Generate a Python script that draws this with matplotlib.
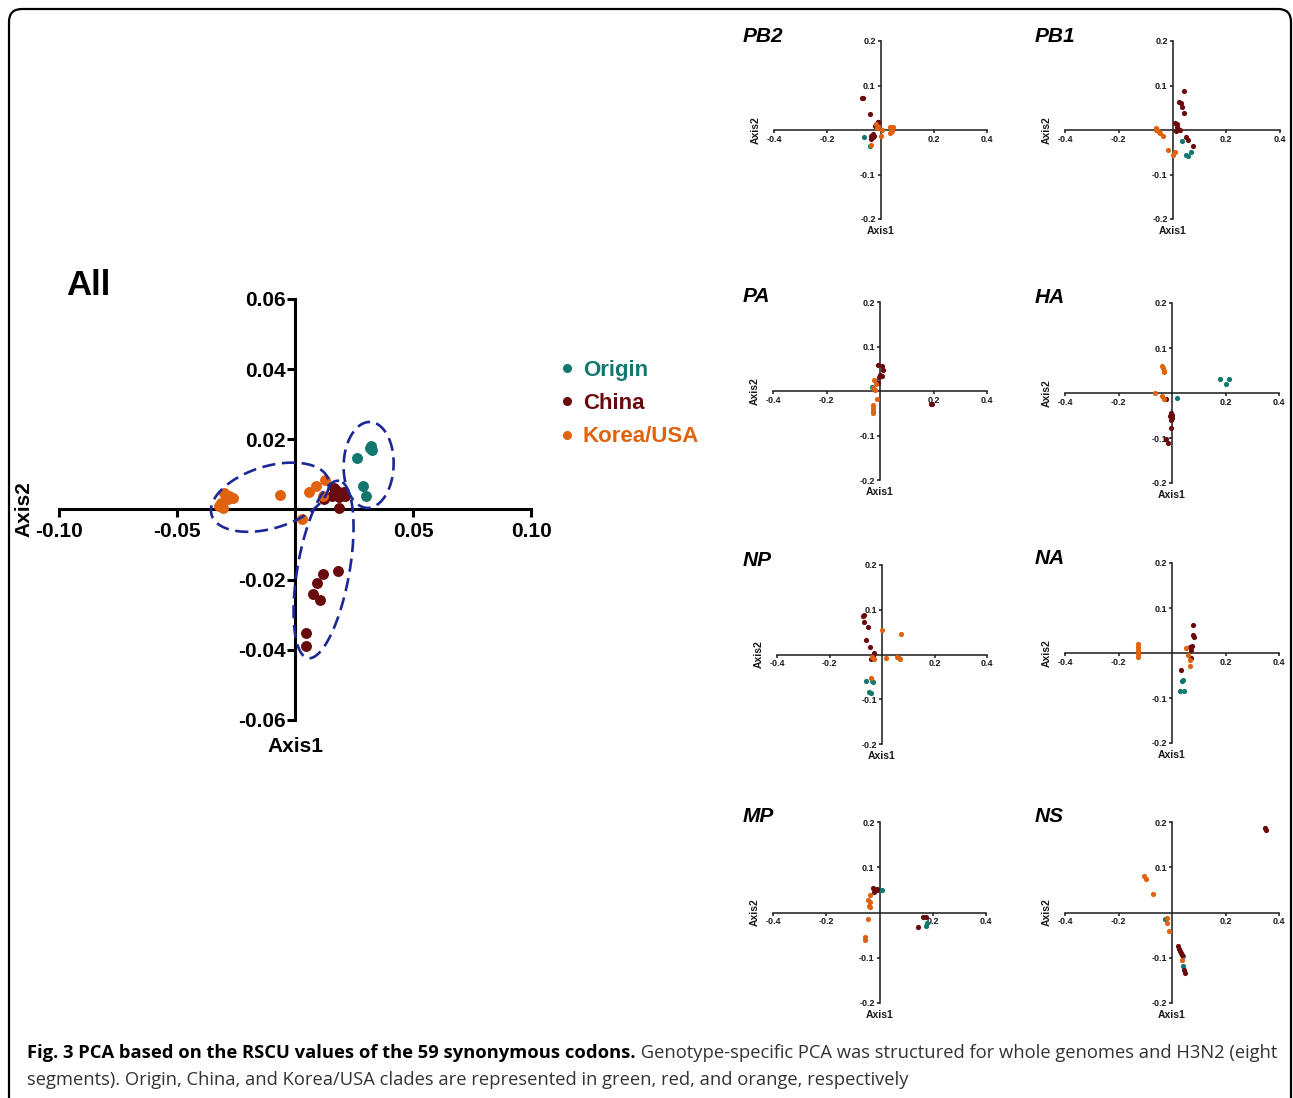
import matplotlib.pyplot as plt
import numpy as np
from matplotlib.lines import Line2D
from matplotlib.patches import FancyBboxPatch

W, H = 1293, 1098
TEAL = '#12786f'
DRED = '#690a0c'
ORNG = '#e0620e'
NAVY = '#1c2896'
INK = '#1a1a1a'

plt.rcParams['font.family'] = ['Liberation Sans', 'DejaVu Sans']

clades = ['Origin', 'China', 'Korea/USA']
clade_colors = [TEAL, DRED, ORNG]

# ---- whole genome PCA (All) ----
all_origin = [(0.0263, 0.0146), (0.0319, 0.0176), (0.0325, 0.0171), (0.0323, 0.0180),
              (0.0288, 0.0066), (0.0301, 0.0038)]
all_china = [(0.0165, 0.0060), (0.0177, 0.0052), (0.0157, 0.0038), (0.0188, 0.0036),
             (0.0206, 0.0049), (0.0213, 0.0038), (0.0124, 0.0029), (0.0188, 0.0005),
             (0.0117, -0.0183), (0.0181, -0.0176), (0.0093, -0.0210), (0.0075, -0.0240),
             (0.0106, -0.0257), (0.0048, -0.0352), (0.0048, -0.0388)]
all_korea = [(-0.0299, 0.0048), (-0.0278, 0.0038), (-0.0264, 0.0033), (-0.0285, 0.0029),
             (-0.0314, 0.0019), (-0.0306, 0.0003), (-0.0323, 0.0010), (-0.0292, 0.0041),
             (-0.0062, 0.0040), (0.0058, 0.0050), (0.0089, 0.0066), (0.0129, 0.0085),
             (0.0120, 0.0038), (0.0028, -0.0026)]

# clade ellipses: centre (data), semi-axes (px), tilt (deg)
ellipse_centers = [(-0.0106, 0.0035), (0.0312, 0.0127), (0.0121, -0.0171)]
ellipse_axes_px = [(61, 31), (43, 25), (90, 26)]
ellipse_angles = [17, 88, 80]

# ---- segment PCA ----
segments = ['PB2', 'PB1', 'PA', 'HA', 'NP', 'NA', 'MP', 'NS']

pb2_origin = [(-0.061, -0.016), (-0.040, -0.037)]
pb2_china = [(-0.069, 0.072), (-0.064, 0.073), (-0.040, 0.036), (-0.011, 0.019), (-0.009, 0.017),
             (-0.021, 0.010), (-0.036, -0.013), (-0.030, -0.016), (-0.024, -0.013),
             (-0.034, -0.020), (-0.028, -0.009)]
pb2_korea = [(-0.018, 0.013), (-0.014, 0.004), (-0.009, 0.007), (0.004, -0.001), (0.001, -0.013),
             (0.035, 0.006), (0.041, 0.002), (0.039, -0.005), (0.048, 0.007), (0.044, -0.002),
             (0.035, -0.007), (-0.034, -0.033)]

pb1_origin = [(0.037, -0.024), (0.067, -0.049), (0.052, -0.056), (0.056, -0.058)]
pb1_china = [(0.042, 0.088), (0.025, 0.064), (0.031, 0.061), (0.037, 0.052), (0.042, 0.038),
             (0.010, 0.016), (0.017, 0.013), (0.015, 0.006), (0.021, 0.002), (0.027, 0.000),
             (0.012, -0.003), (0.052, -0.016), (0.056, -0.022), (0.077, -0.035)]
pb1_korea = [(-0.062, 0.004), (-0.056, 0.000), (-0.052, -0.005), (-0.047, -0.007),
             (-0.035, -0.013), (-0.060, -0.001), (-0.015, -0.044), (0.010, -0.049),
             (0.000, -0.056)]

pa_origin = [(-0.016, 0.023), (-0.029, 0.008)]
pa_china = [(-0.009, 0.059), (0.006, 0.056), (0.011, 0.047), (0.000, 0.035), (0.009, 0.034),
            (-0.004, 0.032), (-0.006, 0.019), (0.191, -0.030), (0.196, -0.029)]
pa_korea = [(-0.021, 0.024), (-0.015, 0.015), (-0.025, 0.006), (-0.019, 0.002),
            (-0.025, -0.032), (-0.026, -0.038), (-0.027, -0.044), (-0.026, -0.049),
            (-0.013, -0.017)]

ha_origin = [(0.020, -0.011), (0.178, 0.032), (0.213, 0.031), (0.200, 0.021)]
ha_china = [(-0.021, -0.013), (-0.002, -0.044), (-0.006, -0.052), (0.001, -0.055),
            (-0.004, -0.059), (-0.001, -0.048), (-0.002, -0.077), (-0.021, -0.102),
            (-0.015, -0.111)]
ha_korea = [(-0.039, 0.061), (-0.034, 0.055), (-0.031, 0.050), (-0.029, 0.046),
            (-0.063, -0.001), (-0.037, -0.007), (-0.030, -0.013)]

np_origin = [(-0.061, -0.060), (-0.038, -0.060), (-0.036, -0.062), (-0.048, -0.084),
             (-0.041, -0.086)]
np_china = [(-0.069, 0.089), (-0.071, 0.087), (-0.070, 0.073), (-0.055, 0.062), (-0.061, 0.032),
            (-0.047, 0.017), (-0.032, 0.004), (-0.036, -0.004), (-0.041, -0.011),
            (-0.033, -0.007)]
np_korea = [(0.000, 0.054), (0.074, 0.046), (-0.038, -0.005), (-0.032, -0.010), (0.015, -0.007),
            (0.057, -0.005), (0.064, -0.008), (0.069, -0.011), (-0.043, -0.052)]

na_origin = [(0.041, -0.059), (0.037, -0.063), (0.031, -0.085), (0.044, -0.085)]
na_china = [(0.078, 0.063), (0.078, 0.041), (0.081, 0.035), (0.073, 0.016), (0.066, 0.013),
            (0.071, 0.006), (0.071, -0.011), (0.032, -0.038)]
na_korea = [(-0.127, 0.020), (-0.127, 0.013), (-0.127, 0.007), (-0.127, 0.002), (-0.127, -0.003),
            (-0.127, -0.008), (0.053, 0.011), (0.061, -0.004), (0.066, -0.015), (0.068, -0.028)]

mp_origin = [(0.003, 0.049), (0.009, 0.049), (0.178, -0.024), (0.173, -0.029)]
mp_china = [(-0.025, 0.054), (-0.016, 0.050), (-0.010, 0.049), (-0.008, 0.051), (-0.020, 0.046),
            (0.163, -0.010), (0.173, -0.009), (0.144, -0.031)]
mp_korea = [(-0.035, 0.039), (-0.045, 0.028), (-0.035, 0.024), (-0.038, 0.015), (-0.035, 0.012),
            (-0.044, -0.015), (-0.054, -0.054), (-0.056, -0.060)]

ns_origin = [(-0.026, -0.015), (0.040, -0.096), (0.042, -0.118)]
ns_china = [(0.348, 0.186), (0.353, 0.182), (0.024, -0.075), (0.027, -0.081), (0.031, -0.086),
            (0.034, -0.090), (0.037, -0.094), (0.045, -0.127), (0.049, -0.133)]
ns_korea = [(-0.103, 0.080), (-0.097, 0.075), (-0.070, 0.041), (-0.017, -0.013),
            (-0.020, -0.024), (-0.012, -0.041), (0.036, -0.106)]

segment_data = [
    (pb2_origin, pb2_china, pb2_korea),
    (pb1_origin, pb1_china, pb1_korea),
    (pa_origin, pa_china, pa_korea),
    (ha_origin, ha_china, ha_korea),
    (np_origin, np_china, np_korea),
    (na_origin, na_china, na_korea),
    (mp_origin, mp_china, mp_korea),
    (ns_origin, ns_china, ns_korea),
]

# panel boxes in pixels (left, top, right, bottom)
panel_boxes = [(774, 41, 987, 219), (1065, 41, 1280, 219),
               (773, 302, 987, 480), (1065, 303, 1279, 483),
               (777, 565, 987, 744), (1065, 563, 1279, 743),
               (773, 822, 986, 1003), (1065, 822, 1279, 1003)]

caption_bold = 'Fig. 3 PCA based on the RSCU values of the 59 synonymous codons.'
caption_line1 = ' Genotype-specific PCA was structured for whole genomes and H3N2 (eight'
caption_line2 = ('segments). Origin, China, and Korea/USA clades are represented in green, '
                 'red, and orange, respectively')


def add_px_axes(fig, box):
    x0, y0, x1, y1 = box
    return fig.add_axes([x0 / W, 1 - y1 / H, (x1 - x0) / W, (y1 - y0) / H])


def cross_axes(ax, lw, color):
    for s in ['top', 'right']:
        ax.spines[s].set_visible(False)
    for s in ['left', 'bottom']:
        ax.spines[s].set_position(('data', 0))
        ax.spines[s].set_linewidth(lw)
        ax.spines[s].set_color(color)
    ax.patch.set_visible(False)


fig = plt.figure(figsize=(W / 100, H / 100), dpi=100)

# outer rounded frame, drawn in pixel units
bg = fig.add_axes([0, 0, 1, 1], zorder=-5)
bg.set_xlim(0, W)
bg.set_ylim(H, 0)
bg.axis('off')
bg.add_patch(FancyBboxPatch((9, 9), W - 11, H + 40,
                            boxstyle='round,pad=0,rounding_size=13',
                            fc='white', ec='black', lw=1.6))

# ---- main panel ----
main_box = (59, 299, 531, 720)
ax = add_px_axes(fig, main_box)
cross_axes(ax, 2.2, 'black')
ax.set_xlim(-0.10, 0.10)
ax.set_ylim(-0.06, 0.06)
ax.set_xticks([-0.10, -0.05, 0.05, 0.10])
ax.set_yticks([-0.06, -0.04, -0.02, 0.02, 0.04, 0.06])
ax.set_xticklabels(['%.2f' % v for v in ax.get_xticks()])
ax.set_yticklabels(['%.2f' % v for v in ax.get_yticks()])
ax.tick_params(direction='out', length=6, width=2.2, labelsize=15)
ax.tick_params(axis='x', pad=3)
ax.tick_params(axis='y', pad=0.5)
for lab in ax.get_xticklabels() + ax.get_yticklabels():
    lab.set_fontweight('bold')

for pts, col in zip([all_origin, all_china, all_korea], clade_colors):
    arr = np.array(pts)
    ax.scatter(arr[:, 0], arr[:, 1], s=62, color=col, linewidths=0, zorder=3)

# ellipses drawn in screen space, then mapped back to data units
sx = (main_box[2] - main_box[0]) / 0.20
sy = (main_box[3] - main_box[1]) / 0.12
t = np.linspace(0, 2 * np.pi, 300)
for (cx, cy), (a, b), ang in zip(ellipse_centers, ellipse_axes_px, ellipse_angles):
    th = np.deg2rad(ang)
    px = a * np.cos(t) * np.cos(th) - b * np.sin(t) * np.sin(th)
    py = a * np.cos(t) * np.sin(th) + b * np.sin(t) * np.cos(th)
    ax.plot(cx + px / sx, cy + py / sy, color=NAVY, lw=1.9, ls=(0, (5, 2.5)), zorder=4)

fig.text(88 / W, 1 - 286 / H, 'All', fontsize=25, fontweight='bold', ha='center', va='center')
fig.text(24 / W, 1 - 509 / H, 'Axis2', fontsize=15, fontweight='bold', rotation=90,
         ha='center', va='center')
fig.text(295 / W, 1 - 747 / H, 'Axis1', fontsize=15, fontweight='bold', ha='center', va='center')

handles = [Line2D([], [], marker='o', ls='', color=c, markersize=5.5) for c in clade_colors]
leg = fig.legend(handles, clades, loc='upper left', bbox_to_anchor=(560 / W, 1 - 360 / H),
                 frameon=False, handlelength=0.6, handletextpad=0.42, labelspacing=0.55,
                 borderpad=0, borderaxespad=0,
                 prop={'size': 16, 'weight': 'bold'})
for txt, c in zip(leg.get_texts(), clade_colors):
    txt.set_color(c)

# ---- segment panels ----
for i, (name, data, box) in enumerate(zip(segments, segment_data, panel_boxes)):
    sax = add_px_axes(fig, box)
    cross_axes(sax, 1.1, INK)
    sax.set_xlim(-0.4, 0.4)
    sax.set_ylim(-0.2, 0.2)
    sax.set_xticks([-0.4, -0.2, 0.2, 0.4])
    sax.set_yticks([-0.2, -0.1, 0.1, 0.2])
    sax.set_xticklabels(['%.1f' % v for v in sax.get_xticks()])
    sax.set_yticklabels(['%.1f' % v for v in sax.get_yticks()])
    sax.tick_params(direction='out', length=2.5, width=1.1, labelsize=6.5, pad=1,
                    color=INK, labelcolor=INK)
    for lab in sax.get_xticklabels() + sax.get_yticklabels():
        lab.set_fontweight('bold')
    for pts, col in zip(data, clade_colors):
        arr = np.array(pts)
        sax.scatter(arr[:, 0], arr[:, 1], s=14, color=col, linewidths=0, zorder=3)

    x0, y0, x1, y1 = box
    xmid = (x0 + x1) / 2
    ymid = (y0 + y1) / 2
    tx = 743 if i % 2 == 0 else 1035
    fig.text(tx / W, 1 - (y0 - 5) / H, name, fontsize=15, fontweight='bold', style='italic',
             ha='left', va='center')
    fig.text((x0 - 18) / W, 1 - ymid / H, 'Axis2', fontsize=7.5, fontweight='bold',
             rotation=90, ha='center', va='center', color=INK)
    fig.text(xmid / W, 1 - (y1 + 12) / H, 'Axis1', fontsize=7.5, fontweight='bold',
             ha='center', va='center', color=INK)

# ---- caption: size fitted so the first line runs across the frame ----
cap_font = ['Open Sans', 'DejaVu Sans']
cap_x0, cap_x1 = 27, 1276
cap_size = 12
t1 = fig.text(cap_x0 / W, 1 - 1058 / H, caption_bold, fontsize=cap_size, fontweight='bold',
              family=cap_font, va='baseline')
t2 = fig.text(0, 1 - 1058 / H, caption_line1, fontsize=cap_size, family=cap_font,
              va='baseline', color='#333333')
r = fig.canvas.get_renderer()
for _ in range(4):
    t2.set_x(t1.get_window_extent(r).x1 / W)
    right = t2.get_window_extent(r).x1
    cap_size *= (cap_x1 - cap_x0) / (right - cap_x0)
    t1.set_fontsize(cap_size)
    t2.set_fontsize(cap_size)
t2.set_x(t1.get_window_extent(r).x1 / W)
fig.text(cap_x0 / W, 1 - 1085 / H, caption_line2, fontsize=cap_size, family=cap_font,
         va='baseline', color='#333333')

fig.savefig('out.png', dpi=100)
